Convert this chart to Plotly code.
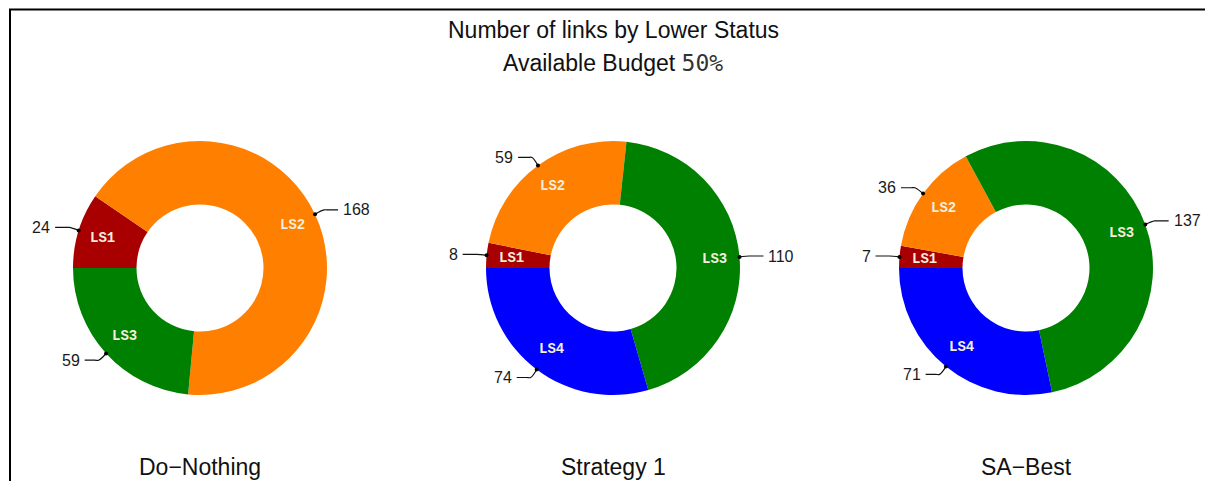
import math
import plotly.graph_objects as go

# ---- data ----
panels = ["Do\u2212Nothing", "Strategy 1", "SA\u2212Best"]
labels_dn = ["LS1", "LS2", "LS3"]
values_dn = [24, 168, 59]
labels_s1 = ["LS1", "LS2", "LS3", "LS4"]
values_s1 = [8, 59, 110, 74]
labels_sa = ["LS1", "LS2", "LS3", "LS4"]
values_sa = [7, 36, 137, 71]
title_line1 = "Number of links by Lower Status"
title_line2 = "Available Budget "
budget = "50%"

COLORS = {"LS1": "#A80000", "LS2": "#FF8000", "LS3": "#008000", "LS4": "#0000FF"}

# ---- layout geometry (screen pixels; page body has an 8px margin) ----
VW, VH = 1213, 481
OFF = 8
W, H = VW - OFF, VH - OFF
CX = [200, 613, 1026]
CY = 268
R = 127
HOLE = 0.5
ROT = 270  # first slice starts at 9 o'clock, clockwise

SANS = "Liberation Sans, Arial, sans-serif"
MONO = "Liberation Mono, DejaVu Sans Mono, monospace"

fig = go.Figure()
shapes = []
annotations = []

series = [(labels_dn, values_dn), (labels_s1, values_s1), (labels_sa, values_sa)]
for i, (labs, vals) in enumerate(series):
    cx = CX[i]
    fig.add_trace(go.Pie(
        labels=labs, values=vals, hole=HOLE, sort=False, direction="clockwise",
        rotation=ROT, textinfo="none", showlegend=False,
        marker=dict(colors=[COLORS[l] for l in labs], line=dict(width=0)),
        domain=dict(x=[(cx - R - OFF) / W, (cx + R - OFF) / W],
                    y=[(VH - CY - R) / H, (VH - CY + R) / H]),
    ))
    total = sum(vals)
    start = ROT
    for lab, v in zip(labs, vals):
        span = v / total * 360.0
        mid = math.radians(start + span / 2)
        start += span
        s, c = math.sin(mid), -math.cos(mid)
        # inner label
        annotations.append(dict(
            x=cx + 0.8 * R * s, y=CY + 0.8 * R * c, xref="x", yref="y", text=lab,
            showarrow=False, font=dict(family=MONO, size=14, color="#F3EEDD", weight="bold"),
            xanchor="center", yanchor="middle"))
        # leader line
        px, py = cx + R * s, CY + R * c
        ex, ey = cx + (R + 10) * s, CY + (R + 10) * c
        side = 1 if s >= 0 else -1
        hx = ex + side * 14
        fig.add_trace(go.Scatter(x=[px, ex, ex + side * 4, hx], y=[py, ey, ey, ey], mode="lines",
                                 line=dict(color="#111111", width=1.2, shape="spline", smoothing=1),
                                 showlegend=False, hoverinfo="skip"))
        shapes.append(dict(type="circle", xref="x", yref="y", layer="above",
                           x0=px - 2, x1=px + 2, y0=py - 2, y1=py + 2,
                           fillcolor="#000000", line=dict(width=0)))
        annotations.append(dict(
            x=hx + side * 3, y=ey, xref="x", yref="y", text=str(v), showarrow=False,
            font=dict(family=SANS, size=16, color="#1a1a1a"),
            xanchor="left" if side > 0 else "right", yanchor="middle"))
    # panel label
    annotations.append(dict(x=cx, y=467, xref="x", yref="y", text=panels[i], showarrow=False,
                            font=dict(family=SANS, size=23, color="#111111"),
                            xanchor="center", yanchor="middle"))

annotations.append(dict(x=CX[1], y=30, xref="x", yref="y", text=title_line1, showarrow=False,
                        font=dict(family=SANS, size=23, color="#111111"),
                        xanchor="center", yanchor="middle"))
annotations.append(dict(x=CX[1], y=63, xref="x", yref="y",
                        text=title_line2 + "<span style='font-family:DejaVu Sans Mono;color:#333'>" + budget + "</span>",
                        showarrow=False, font=dict(family=SANS, size=23, color="#111111"),
                        xanchor="center", yanchor="middle"))

# frame
shapes.append(dict(type="rect", xref="x", yref="y", layer="above",
                   x0=10, x1=VW + 20, y0=9.5, y1=VH + 20,
                   line=dict(color="#000000", width=2), fillcolor="rgba(0,0,0,0)"))

fig.update_layout(
    width=W, height=H, autosize=False,
    margin=dict(l=0, r=0, t=0, b=0),
    paper_bgcolor="white", plot_bgcolor="white",
    xaxis=dict(range=[OFF, VW], visible=False, fixedrange=True),
    yaxis=dict(range=[VH, OFF], visible=False, fixedrange=True),
    shapes=shapes, annotations=annotations,
)
fig.write_html("out.html")
